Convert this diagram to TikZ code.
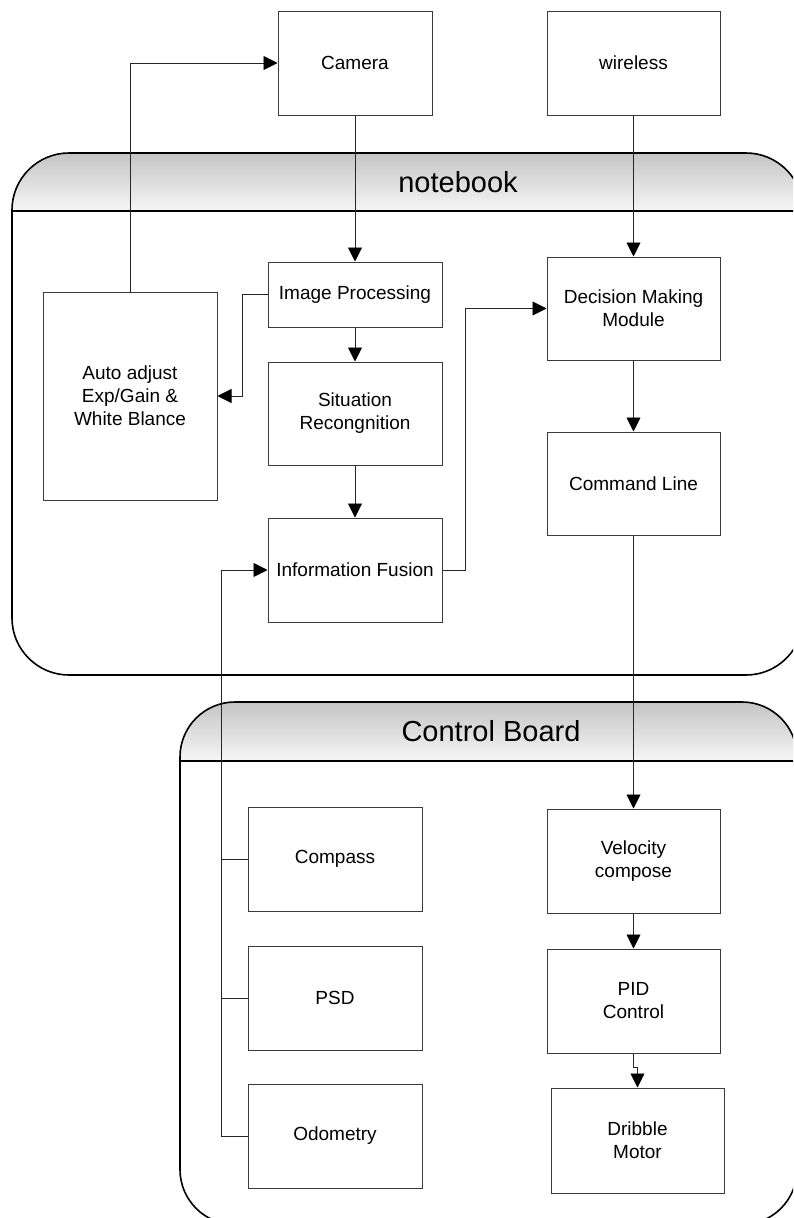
\documentclass[tikz,border=0pt]{standalone}
\usepackage{fontspec}
\setmainfont{Liberation Sans}
\usetikzlibrary{arrows.meta,calc}

\definecolor{hdrtop}{HTML}{C4C4C4}
\definecolor{hdrbot}{HTML}{F6F6F6}
\definecolor{boxline}{HTML}{3A3A3A}

\tikzset{
  block/.style={draw=boxline, line width=1pt, fill=white, rectangle,
    align=center, inner sep=0pt, font=\fontsize{19}{23}\selectfont},
  link/.style={draw=black!85, line width=0.9pt},
  flow/.style={link, -{Triangle[length=14pt,width=14pt,color=black]}},
  frame/.style={draw=black, line width=1.6pt},
  title/.style={font=\fontsize{29}{34}\selectfont, inner sep=0pt}
}

% rounded container with a shaded title band
\newcommand{\pool}[6]{% x0, x1, top, header, bottom, radius
  \fill[white] (#1,-#3) [rounded corners=#6pt] -- (#1,-#5) -- (#2,-#5) -- (#2,-#3) -- cycle;
  \shade[top color=hdrtop, bottom color=hdrbot]
    (#1,-#4) -- (#1,-#3-#6) arc[start angle=180,end angle=90,radius=#6]
    -- (#2-#6,-#3) arc[start angle=90,end angle=0,radius=#6] -- (#2,-#4) -- cycle;
  \draw[frame] (#1,-#4) -- (#1,-#3-#6) arc[start angle=180,end angle=90,radius=#6]
    -- (#2-#6,-#3) arc[start angle=90,end angle=0,radius=#6]
    -- (#2,-#5+#6) arc[start angle=0,end angle=-90,radius=#6]
    -- (#1+#6,-#5) arc[start angle=270,end angle=180,radius=#6] -- cycle;
  \draw[frame] (#1,-#4) -- (#2,-#4);
}

\begin{document}
\begin{tikzpicture}[x=1pt,y=1pt]
\useasboundingbox (0,0) rectangle (793,-1218);
\clip (0,0) rectangle (793,-1218);
\fill[white] (0,0) rectangle (793,-1218);

% containers
\pool{12}{803}{153}{211}{675}{57}
\node[title] (nbtitle) at (458,-182) {notebook};
\pool{180}{797}{702}{761}{1224.5}{55}
\node[title] (cbtitle) at (491,-731) {Control Board};

% blocks
\node[block, minimum width=154pt, minimum height=104pt] (cam) at (355,-63) {Camera};
\node[block, minimum width=173pt, minimum height=104pt] (wl) at (633.5,-63) {wireless};
\node[block, minimum width=174pt, minimum height=65pt] (ip) at (355,-294.5) {Image Processing};
\node[block, minimum width=174pt, minimum height=103pt] (sit) at (355,-413.5) {Situation\\Recongnition};
\node[block, minimum width=174pt, minimum height=104pt] (fus) at (355,-570) {Information Fusion};
\node[block, minimum width=174pt, minimum height=208pt] (auto) at (130,-396) {Auto adjust\\Exp/Gain \&\\White Blance};
\node[block, minimum width=173pt, minimum height=103pt] (dec) at (633.5,-308.5) {Decision Making\\Module};
\node[block, minimum width=173pt, minimum height=103pt] (cmd) at (633.5,-483.5) {Command Line};
\node[block, minimum width=174pt, minimum height=104pt] (cps) at (335,-859) {Compass};
\node[block, minimum width=174pt, minimum height=104pt] (psd) at (335,-998) {PSD};
\node[block, minimum width=174pt, minimum height=104pt] (odo) at (335,-1136) {Odometry};
\node[block, minimum width=173pt, minimum height=104pt] (vel) at (633.5,-861) {Velocity\\compose};
\node[block, minimum width=173pt, minimum height=104pt] (pid) at (633.5,-1001) {PID\\Control};
\node[block, minimum width=173pt, minimum height=105pt] (drb) at (637.5,-1140.5) {Dribble\\Motor};

% connectors
\draw[flow] (cam.south) -- (ip.north);
\draw[flow] (wl.south) -- (dec.north);
\draw[flow] (auto.north) |- (cam.west);
\draw[flow] (ip.west) -- ++(-25,0) |- (auto.east);
\draw[flow] (ip.south) -- (sit.north);
\draw[flow] (sit.south) -- (fus.north);
\draw[flow] (fus.east) -- ++(23,0) |- (dec.west);
\draw[flow] (dec.south) -- (cmd.north);
\draw[flow] (cmd.south) -- (vel.north);
\draw[flow] (vel.south) -- (pid.north);
\draw[flow] (pid.south) -- ++(0,-14) -| (drb.north);

% sensor bus into the fusion block
\coordinate (bus) at ($(odo.west)+(-26,0)$);
\draw[flow] (odo.west) -- (bus) |- (fus.west);
\draw[link] (cps.west) -- (cps.west -| bus);
\draw[link] (psd.west) -- (psd.west -| bus);
\end{tikzpicture}
\end{document}
